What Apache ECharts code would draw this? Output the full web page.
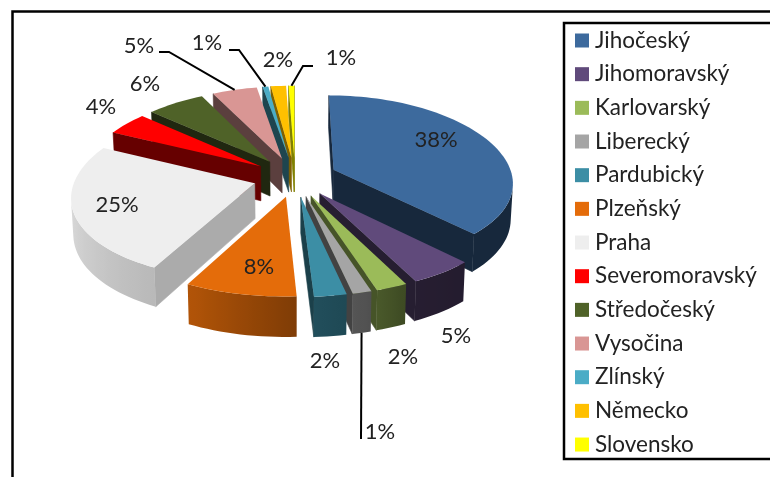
<!DOCTYPE html>
<html><head><meta charset="utf-8">
<style>html,body{margin:0;padding:0;background:#fff}#c{width:770px;height:477px}</style>
<script src="https://cdn.jsdelivr.net/npm/echarts@6/dist/echarts.min.js"></script>
</head><body><div id="c"></div>
<script>
const categories = ['Jihočeský','Jihomoravský','Karlovarský','Liberecký','Pardubický','Plzeňský','Praha','Severomoravský','Středočeský','Vysočina','Zlínský','Německo','Slovensko'];
const values = [37.8,5.0,2.4,1.45,2.45,8.45,24.6,4.3,6.05,4.7,0.6,1.6,0.6];
const colors = ['#3D6A9D','#604A7B','#9BBB59','#A5A5A5','#3C8EA5','#E46C0A','#EEEEEE','#FF0000','#4F6228','#D99694','#4BACC6','#FFC000','#FFFF00'];
const wallShade = [.38,.4,.45,.4,.45,.5,.72,.4,.4,.42,.4,.5,.5];
const rimShadeStops = [[0,.38],[140,.38],[155,.4],[165,.5],[176,.55],[205,.77],[270,.95],[360,.38]];
const labelLayout = [
  {x:436,y:140},{x:456,y:336},{x:403,y:357},
  {x:380,y:432,line:[[361,439]]},
  {x:325,y:361},{x:259,y:267},{x:117,y:205},{x:101,y:107},{x:145,y:84},
  {x:139,y:46,line:[[169,52],[159,52]]},
  {x:207,y:43,line:[[239,50],[229,50]]},
  {x:278,y:60},
  {x:341,y:58,line:[[303,66],[313,66]]}
];
const FONT = 'Lato, Carlito, sans-serif';
const proj = {cx:295, cy:177, a:179, b:84, k:.11, kx:.14, explode:.235, depth:35, shrink:.99};
const total = values.reduce((s,v)=>s+v,0);
let run = 0;
const slices = values.map(v=>{const s={start:run/total*360,end:(run+v)/total*360};run+=v;s.mid=(s.start+s.end)/2;return s;});
const rad = d=>d*Math.PI/180;
function P(x,y,bottom){
  const w=1-proj.k*y, wx=1-proj.kx*y; let X=proj.cx+proj.a*x/wx, Y=proj.cy+proj.b*y/w;
  if(bottom){X=proj.cx+(X-proj.cx)*proj.shrink;Y+=proj.depth/w;}
  return [X,Y];
}
function apexOf(s){return [proj.explode*Math.sin(rad(s.mid)),-proj.explode*Math.cos(rad(s.mid))];}
function rimOf(s,t){const a=apexOf(s);return [a[0]+Math.sin(rad(t)),a[1]-Math.cos(rad(t))];}
function shade(hex,f){const n=parseInt(hex.slice(1),16);const c=[n>>16&255,n>>8&255,n&255].map(v=>Math.round(v*f));return 'rgb('+c.join(',')+')';}
function rimShade(t){for(let i=1;i<rimShadeStops.length;i++){const p=rimShadeStops[i-1],q=rimShadeStops[i];if(t<=q[0])return p[1]+(q[1]-p[1])*(t-p[0])/(q[0]-p[0]);}return .4;}
function area(pts){let a=0;for(let i=0;i<pts.length;i++){const p=pts[i],q=pts[(i+1)%pts.length];a+=p[0]*q[1]-q[0]*p[1];}return a/2;}
function quad(A,B){return [P(A[0],A[1]),P(B[0],B[1]),P(B[0],B[1],true),P(A[0],A[1],true)];}
function renderSlice(i){
  const s=slices[i],col=colors[i],ap=apexOf(s),n=Math.max(2,Math.ceil((s.end-s.start)/2)),rim=[];
  for(let j=0;j<=n;j++){const t=s.start+(s.end-s.start)*j/n;rim.push({t:t,w:rimOf(s,t)});}
  const children=[];
  const wall=(A,B)=>{const q=quad(A,B);if(area(q)<0)children.push({type:'polygon',shape:{points:q},style:{fill:shade(col,wallShade[i]),stroke:shade(col,wallShade[i]),lineWidth:.6}});};
  wall(ap,rim[0].w);
  wall(rim[n].w,ap);
  let vis=[];
  for(let j=0;j<n;j++){if(area(quad(rim[j].w,rim[j+1].w))<0){if(!vis.length)vis.push(rim[j]);vis.push(rim[j+1]);}}
  if(vis.length>1){
    const tops=vis.map(r=>P(r.w[0],r.w[1])),bots=vis.map(r=>P(r.w[0],r.w[1],true)),poly=tops.concat(bots.slice().reverse());
    const xs=poly.map(p=>p[0]),x0=Math.min.apply(null,xs),x1=Math.max.apply(null,xs);
    const stops=vis.map((r,j)=>({offset:Math.min(1,Math.max(0,(tops[j][0]-x0)/(x1-x0))),color:shade(col,rimShade(r.t))})).sort((a,b)=>a.offset-b.offset);
    children.push({type:'polygon',shape:{points:poly},style:{fill:new echarts.graphic.LinearGradient(0,0,1,0,stops)}});
  }
  const top=[P(ap[0],ap[1])].concat(rim.map(r=>P(r.w[0],r.w[1])));
  children.push({type:'polygon',shape:{points:top},style:{fill:col}});
  return {type:'group',children:children};
}
function renderLabel(params,api){
  const i=api.value(0),L=labelLayout[i],children=[];
  if(L.line){
    const s=slices[i],w=rimOf(s,s.mid),start=P(w[0],w[1],i===3);
    children.push({type:'polyline',shape:{points:[start].concat(L.line)},style:{stroke:'#000',lineWidth:2,fill:null}});
  }
  children.push({type:'text',style:{x:L.x,y:L.y,text:Math.round(values[i]/total*100)+'%',font:'22px '+FONT,fill:'#222',align:'center',verticalAlign:'middle'}});
  return {type:'group',children:children};
}
const order=slices.map((s,i)=>[i,-Math.cos(rad(s.mid))]).sort((a,b)=>a[1]-b[1]).map(o=>o[0]);
const series=categories.map((name,i)=>({
  type:'custom',name:name,coordinateSystem:'none',z:2+order.indexOf(i),silent:true,
  itemStyle:{color:colors[i]},data:[[values[i]]],renderItem:()=>renderSlice(i)
}));
series.push({type:'custom',name:'labels',coordinateSystem:'none',z:40,silent:true,data:categories.map((c,i)=>[i]),renderItem:renderLabel});
const chart=echarts.init(document.getElementById('c'),null,{renderer:'canvas'});
chart.setOption({
  animation:false,backgroundColor:'#fff',
  graphic:[
    {type:'rect',z:0,silent:true,shape:{x:12.5,y:11.5,width:820,height:520},style:{fill:'#fff',stroke:'#000',lineWidth:2.5}},
    {type:'rect',z:1,silent:true,shape:{x:564,y:23,width:260,height:436},style:{fill:'#fff',stroke:'#000',lineWidth:2.5}}
  ],
  legend:{orient:'vertical',left:575,top:29,padding:0,data:categories,selectedMode:false,icon:'rect',itemWidth:14,itemHeight:14,itemGap:10.67,z:30,
    textStyle:{fontFamily:FONT,fontSize:22.5,lineHeight:22,color:'#222',padding:[0,0,0,1]}},
  series:series
});
</script></body></html>
